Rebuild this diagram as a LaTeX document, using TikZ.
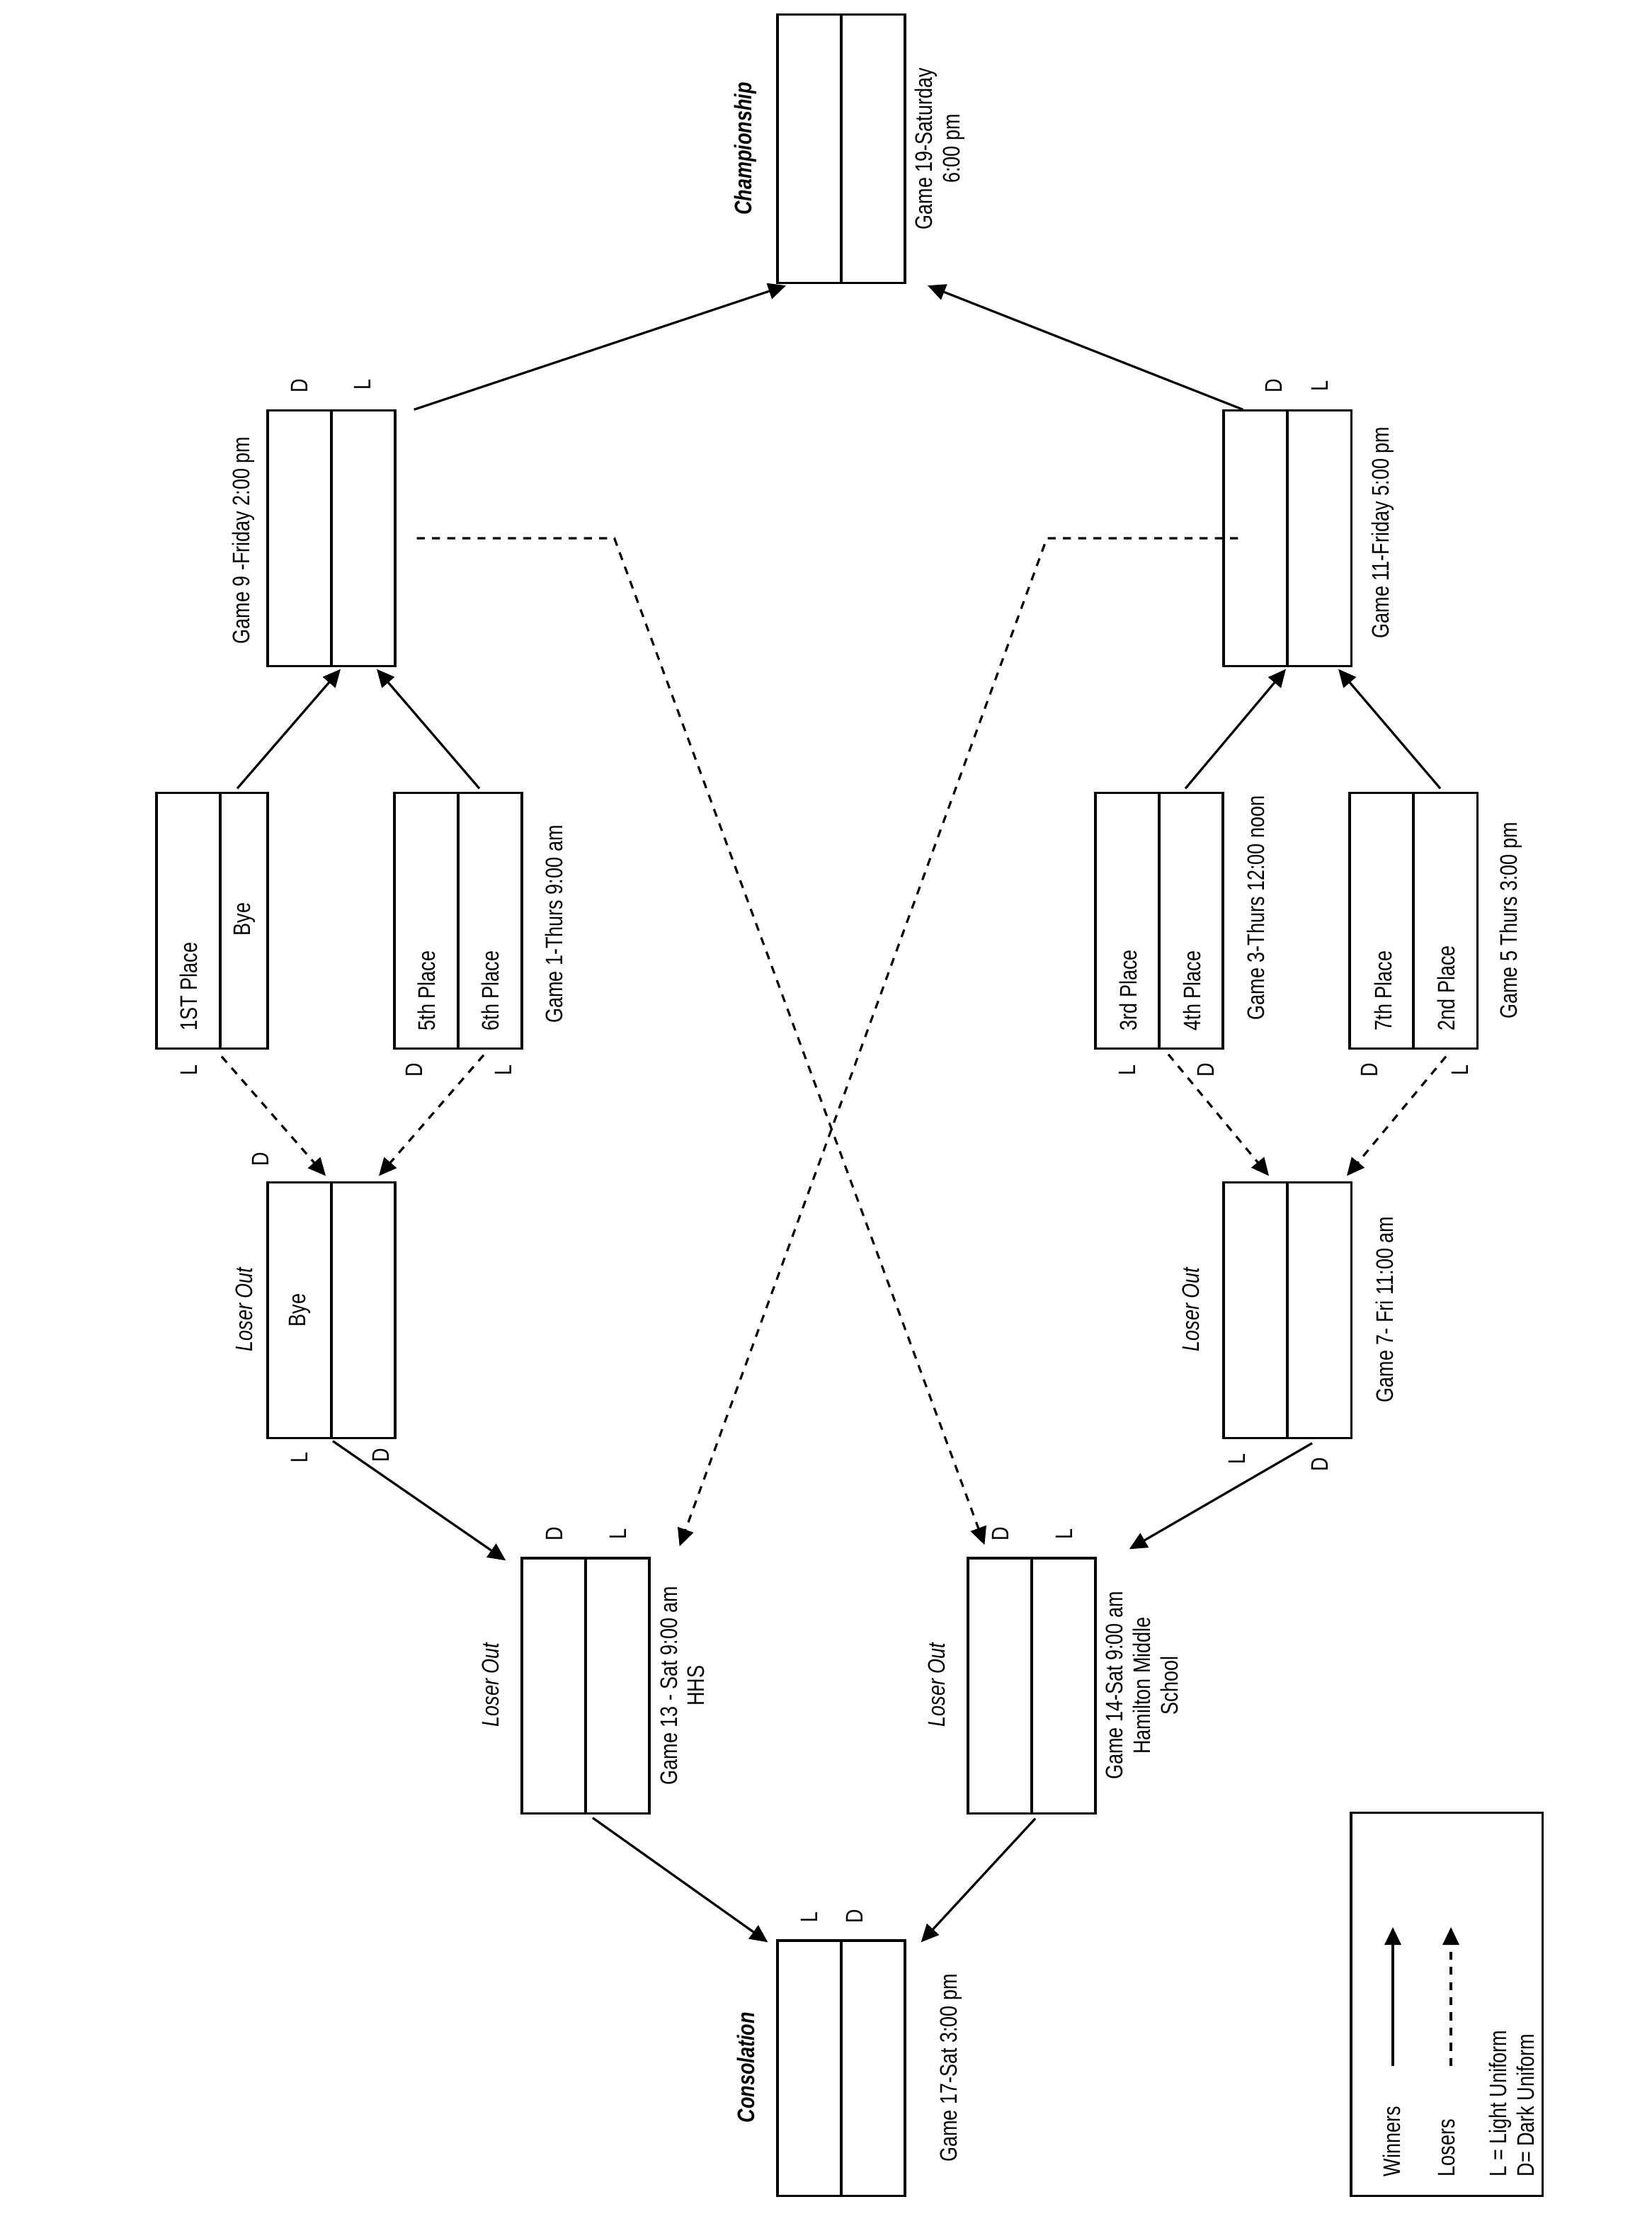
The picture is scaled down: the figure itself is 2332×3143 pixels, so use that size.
\documentclass[tikz,border=0pt]{standalone}
\usepackage{fontspec}
\setmainfont{Liberation Sans}[FakeStretch=0.8]
\usepackage{tikz}
\usetikzlibrary{arrows.meta,calc}
\tikzset{
  game/.style={draw, line width=0.9pt, minimum width=1.8cm, minimum height=3.6cm, inner sep=0pt,
    path picture={\draw[line width=0.9pt] ([xshift=#1]path picture bounding box.north) -- ([xshift=#1]path picture bounding box.south);}},
  game/.default=0cm,
  txt/.style={rotate=90, inner sep=0pt, align=center, font=\fontsize{9.6pt}{11pt}\selectfont},
  head/.style={txt, font=\fontsize{9.6pt}{11pt}\selectfont\bfseries\itshape},
  note/.style={txt, font=\fontsize{9.6pt}{11pt}\selectfont\itshape},
  win/.style={-{Triangle[length=2.5mm,width=2.3mm]}, line width=0.9pt},
  lose/.style={win, dash pattern=on 3.2pt off 2.9pt},
}
\begin{document}
\begin{tikzpicture}[x=0.01cm, y=-0.01cm]
  \useasboundingbox (0,0) rectangle (2332,3143);
  % game boxes
  \node[game, minimum height=3.79cm] (champ) at (1188,210) {};
  \node[game] (g9)  at (468,760) {};
  \node[game] (g11) at (1818,760) {};
  \node[game=0.115cm, minimum width=1.57cm] (g1a) at (299.5,1300) {};
  \node[game] (g1b) at (647,1300) {};
  \node[game] (g3)  at (1637,1300) {};
  \node[game] (g5)  at (1996,1300) {};
  \node[game] (lo1) at (468,1850) {};
  \node[game] (g7)  at (1818,1850) {};
  \node[game] (g13) at (827,2380) {};
  \node[game] (g14) at (1457,2380) {};
  \node[game] (cons) at (1188,2920) {};
  \node[draw, line width=0.9pt, minimum width=2.7cm, minimum height=5.4cm] (key) at (2043,2830) {};

  % titles and times
  \node[head] (champ-t) at (1053,210) {Championship};
  \node[txt] (champ-d) at (1327,210) {Game 19-Saturday\\6:00 pm};
  \node[txt] (g9-d)  at (344,763) {Game 9 -Friday 2:00 pm};
  \node[txt] (g11-d) at (1953,752) {Game 11-Friday 5:00 pm};
  \node[txt] (g1-d)  at (782,1305) {Game 1-Thurs 9:00 am};
  \node[txt] (g3-d)  at (1773,1282) {Game 3-Thurs 12:00 noon};
  \node[txt] (g5-d)  at (2134,1300) {Game 5 Thurs 3:00 pm};
  \node[note] (lo1-t) at (345,1849) {Loser Out};
  \node[note] (g7-t)  at (1682,1849) {Loser Out};
  \node[txt] (g7-d)  at (1955,1849) {Game 7- Fri 11:00 am};
  \node[note] (g13-t) at (693,2379) {Loser Out};
  \node[txt] (g13-d) at (964,2380) {Game 13 - Sat 9:00 am\\HHS};
  \node[note] (g14-t) at (1323,2379) {Loser Out};
  \node[txt] (g14-d) at (1613,2380) {Game 14-Sat 9:00 am\\Hamilton Middle\\School};
  \node[head] (cons-t) at (1053,2919) {Consolation};
  \node[txt] (cons-d) at (1343,2920) {Game 17-Sat 3:00 pm};

  % teams
  \node[txt, anchor=west] (p1) at (266,1456) {1ST Place};
  \node[txt] (bye1) at (345,1298) {Bye};
  \node[txt, anchor=west] (p5) at (602,1456) {5th Place};
  \node[txt, anchor=west] (p6) at (692,1456) {6th Place};
  \node[txt, anchor=west] (p3) at (1593,1456) {3rd Place};
  \node[txt, anchor=west] (p4) at (1683,1456) {4th Place};
  \node[txt, anchor=west] (p7) at (1953,1456) {7th Place};
  \node[txt, anchor=west] (p2) at (2042,1456) {2nd Place};
  \node[txt] (bye2) at (423,1850) {Bye};

  % uniforms
  \node[txt] (g9-D)  at (423,545) {D};   \node[txt] (g9-L)  at (512,543) {L};
  \node[txt] (g11-D) at (1799,545) {D};  \node[txt] (g11-L) at (1864,545) {L};
  \node[txt] (g1a-L) at (267,1511) {L};
  \node[txt] (g1b-D) at (585,1511) {D};  \node[txt] (g1b-L) at (711,1511) {L};
  \node[txt] (g3-L)  at (1592,1511) {L}; \node[txt] (g3-D)  at (1703,1511) {D};
  \node[txt] (g5-D)  at (1934,1511) {D}; \node[txt] (g5-L)  at (2062,1511) {L};
  \node[txt] (lo1-D) at (368,1637) {D};
  \node[txt] (lo1-L2) at (423,2058) {L}; \node[txt] (lo1-D2) at (538,2055) {D};
  \node[txt] (g7-L)  at (1747,2060) {L}; \node[txt] (g7-D)  at (1864,2068) {D};
  \node[txt] (g13-D) at (783,2166) {D};  \node[txt] (g13-L) at (873,2166) {L};
  \node[txt] (g14-D) at (1413,2166) {D}; \node[txt] (g14-L) at (1503,2166) {L};
  \node[txt] (cons-L) at (1143,2707) {L}; \node[txt] (cons-D) at (1207,2706) {D};

  % winners
  \draw[win] ([shift={(35.5,-5)}]g1a.north) -- ([shift={(13,3)}]g9.south);
  \draw[win] ([shift={(30,-5)}]g1b.north) -- ([shift={(64,3)}]g9.south);
  \draw[win] ([shift={(25,0)}]g9.north east) -- ([shift={(-78,2)}]champ.south);
  \draw[win] ([shift={(29,0)}]g11.north west) -- ([shift={(122,2)}]champ.south);
  \draw[win] ([shift={(37,-5)}]g3.north) -- ([shift={(-2,3)}]g11.south);
  \draw[win] ([shift={(38,-5)}]g5.north) -- ([shift={(72,3)}]g11.south);
  \draw[win] ([shift={(2,3)}]lo1.south) -- ([shift={(-21,5)}]g13.north west);
  \draw[win] ([shift={(35,6)}]g7.south) -- ([shift={(46,-11)}]g14.north east);
  \draw[win] ([shift={(10,5)}]g13.south) -- ([shift={(-12,4)}]cons.north west);
  \draw[win] ([shift={(5,6)}]g14.south) -- ([shift={(21,4)}]cons.north east);

  % losers
  \draw[lose] ([shift={(13.5,10)}]g1a.south) -- ([shift={(-8,-8)}]lo1.north);
  \draw[lose] ([shift={(36,8)}]g1b.south) -- ([shift={(67,-8)}]lo1.north);
  \draw[lose] ([shift={(13,7)}]g3.south) -- ([shift={(-26,-8)}]g7.north);
  \draw[lose] ([shift={(46,10)}]g5.south) -- ([shift={(84,-8)}]g7.north);
  \draw[lose] ([shift={(29,0)}]g9.east) -- ++(279,0) -- ([shift={(25,-17)}]g14.north west);
  \draw[lose] ([shift={(22,0)}]g11.west) -- ++(-270,0) -- ([shift={(41,-15)}]g13.north east);

  % key
  \coordinate (winA) at (1967,2917);  \coordinate (winB) at (1967,2721);
  \coordinate (loseA) at (2049,2917); \coordinate (loseB) at (2049,2721);
  \draw[win] (winA) -- (winB);
  \draw[lose] (loseA) -- (loseB);
  \node[txt, anchor=west] (win-t) at (1965,3074) {Winners};
  \node[txt, anchor=west] (lose-t) at (2043,3074) {Losers};
  \node[txt, anchor=west, align=left] (uni-t) at (2135,3074) {L = Light Uniform\\D= Dark Uniform};
\end{tikzpicture}
\end{document}
